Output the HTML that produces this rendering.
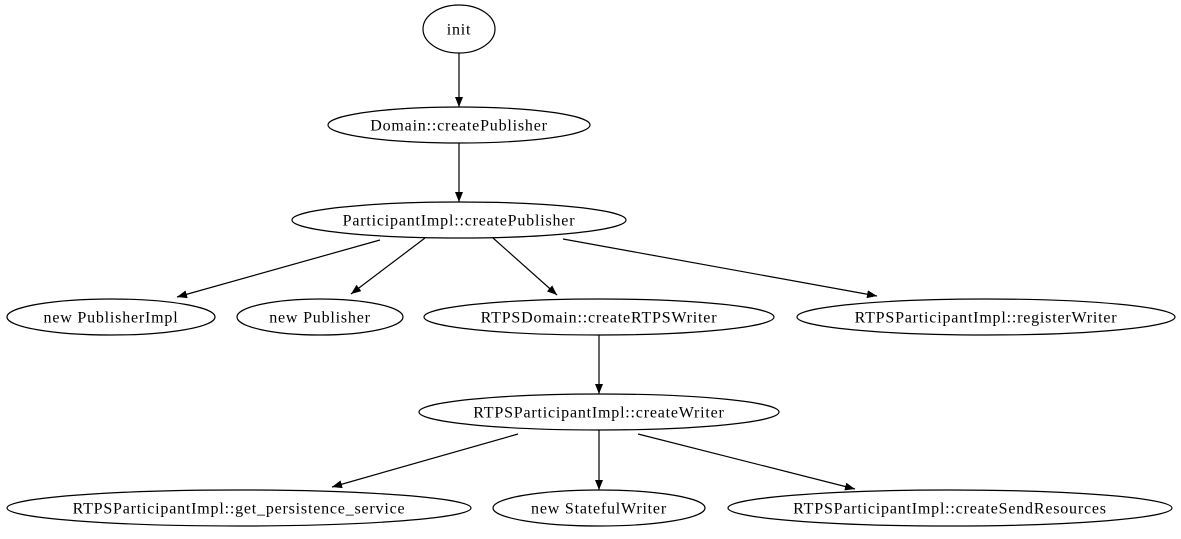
<!DOCTYPE html>
<html><head><meta charset="utf-8"><style>
html,body{margin:0;padding:0;background:#fff;}
svg{display:block}
text{font-family:"Liberation Serif",serif;font-size:16px;letter-spacing:0.8px;fill:#000;text-anchor:middle;dominant-baseline:central}
ellipse{fill:none;stroke:#000;stroke-width:1.2}
line{stroke:#000;stroke-width:1.2}
</style></head><body>
<svg width="1181" height="539" viewBox="0 0 1181 539" xmlns="http://www.w3.org/2000/svg">
<defs><marker id="a" markerWidth="10" markerHeight="8" refX="10" refY="4" orient="auto" markerUnits="userSpaceOnUse"><path d="M0,0 L10,4 L0,8 z" fill="#000"/></marker></defs>
<ellipse cx="459" cy="29" rx="36" ry="24"/><text x="459" y="30">init</text>
<ellipse cx="459" cy="125" rx="131" ry="18"/><text x="459" y="126">Domain::createPublisher</text>
<ellipse cx="459" cy="220" rx="167" ry="18"/><text x="459" y="221">ParticipantImpl::createPublisher</text>
<ellipse cx="111" cy="317" rx="104" ry="18"/><text x="111" y="318">new PublisherImpl</text>
<ellipse cx="320" cy="317" rx="83" ry="18"/><text x="320" y="318">new Publisher</text>
<ellipse cx="599" cy="317" rx="175" ry="18"/><text x="599" y="318">RTPSDomain::createRTPSWriter</text>
<ellipse cx="986" cy="317" rx="189" ry="18"/><text x="986" y="318">RTPSParticipantImpl::registerWriter</text>
<ellipse cx="599" cy="412" rx="180" ry="18"/><text x="599" y="413">RTPSParticipantImpl::createWriter</text>
<ellipse cx="239" cy="508" rx="232" ry="18"/><text x="239" y="509">RTPSParticipantImpl::get_persistence_service</text>
<ellipse cx="599" cy="508" rx="106" ry="18"/><text x="599" y="509">new StatefulWriter</text>
<ellipse cx="950" cy="508" rx="222" ry="18"/><text x="950" y="509">RTPSParticipantImpl::createSendResources</text>
<line x1="459" y1="53" x2="459" y2="107" marker-end="url(#a)"/>
<line x1="459" y1="143" x2="459" y2="202" marker-end="url(#a)"/>
<line x1="380" y1="240" x2="177" y2="297" marker-end="url(#a)"/>
<line x1="425" y1="238" x2="351" y2="294" marker-end="url(#a)"/>
<line x1="493" y1="238" x2="557" y2="295" marker-end="url(#a)"/>
<line x1="563" y1="239" x2="877" y2="296" marker-end="url(#a)"/>
<line x1="599" y1="335" x2="599" y2="394" marker-end="url(#a)"/>
<line x1="518" y1="434" x2="332" y2="487" marker-end="url(#a)"/>
<line x1="599" y1="430" x2="599" y2="490" marker-end="url(#a)"/>
<line x1="638" y1="434" x2="855" y2="489" marker-end="url(#a)"/>
</svg>
</body></html>
